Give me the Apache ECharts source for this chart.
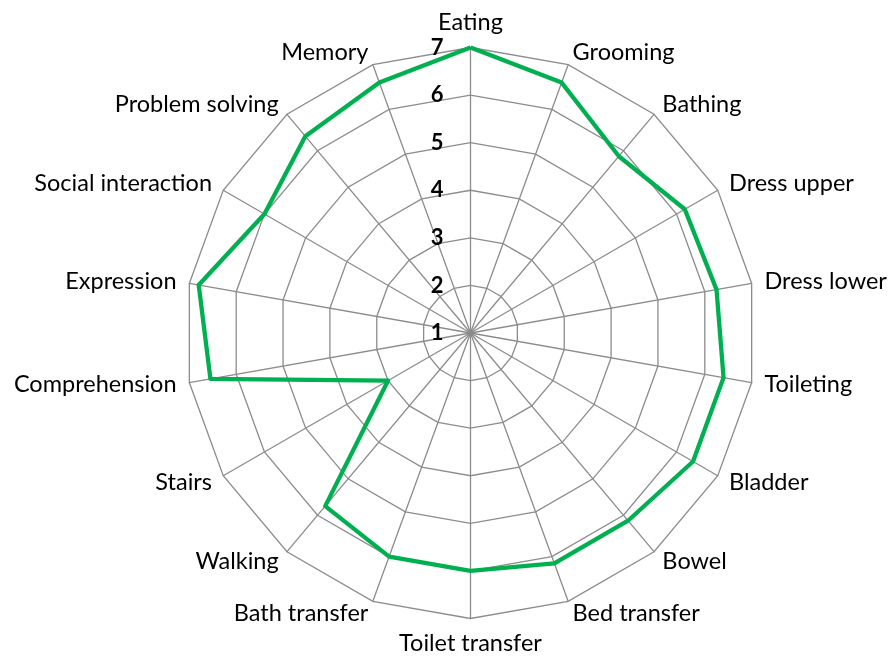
<!DOCTYPE html>
<html>
<head>
<meta charset="utf-8">
<script src="https://cdn.jsdelivr.net/npm/echarts@6/dist/echarts.min.js"></script>
<style>html,body{margin:0;padding:0;background:#fff}#c{width:893px;height:656px}</style>
</head>
<body>
<div id="c"></div>
<script>
const categories = ['Eating','Grooming','Bathing','Dress upper','Dress lower','Toileting','Bladder','Bowel','Bed transfer','Toilet transfer','Bath transfer','Walking','Stairs','Comprehension','Expression','Social interaction','Problem solving','Memory'];
const scores = [7, 6.6, 5.85, 6.2, 6.25, 6.4, 6.4, 6.15, 6.15, 6, 6, 5.75, 3, 6.55, 6.8, 6, 6.4, 6.6];
const axisMin = 1, axisMax = 7;
const tickLabels = ['1','2','3','4','5','6','7'];

// ECharts radar runs counter-clockwise; reorder so categories run clockwise from the top
const order = categories.map((_, i) => (categories.length - i) % categories.length);

const chart = echarts.init(document.getElementById('c'));
const gray = '#8c8c8c';
chart.setOption({
  animation: false,
  radar: {
    center: [470.5, 333],
    radius: 285.5,
    startAngle: 90,
    splitNumber: 6,
    shape: 'polygon',
    axisName: { color: '#000', fontFamily: 'Lato', fontSize: 23.5 },
    nameGap: 13,
    splitLine: { lineStyle: { color: gray, width: 1.3 } },
    splitArea: { show: false },
    axisLine: { lineStyle: { color: gray, width: 1.3 } },
    axisTick: { show: false },
    axisLabel: { show: false },
    indicator: order.map((k, i) => {
      const o = { name: categories[k], min: axisMin, max: axisMax };
      if (i === 0) {
        o.axisLabel = { show: true, color: '#000', fontFamily: 'Lato', fontWeight: 'bold', fontSize: 22, margin: 27,
          formatter: v => tickLabels[Math.round(v) - axisMin] || '' };
      }
      return o;
    })
  },
  series: [{
    type: 'radar',
    symbol: 'none',
    lineStyle: { color: '#00b050', width: 4.3 },
    data: [{ value: order.map(k => scores[k]) }]
  }]
});
</script>
</body>
</html>
